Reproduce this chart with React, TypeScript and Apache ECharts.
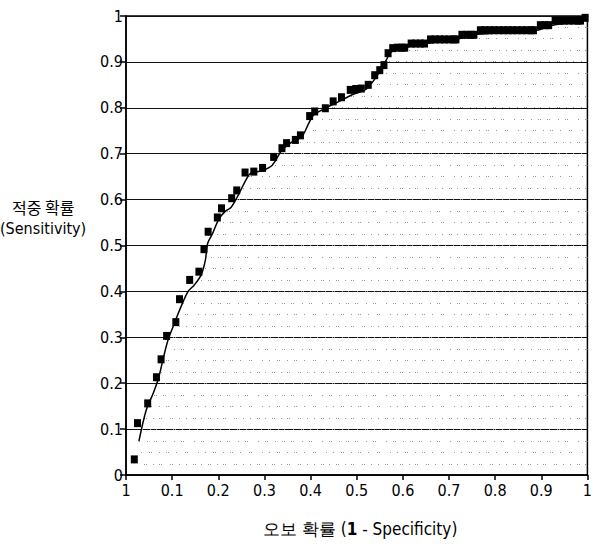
import React, { useEffect, useRef } from "react";
import * as echarts from "echarts";

// Empirical ROC points (1 - specificity, sensitivity), drawn as squares
const empiricalX = [
  0.018, 0.025, 0.047, 0.066, 0.076, 0.088, 0.108, 0.116, 0.138, 0.158,
  0.169, 0.178, 0.198, 0.207, 0.229, 0.240, 0.258, 0.277, 0.296, 0.320,
  0.338, 0.348, 0.367, 0.378, 0.398, 0.409, 0.432, 0.449, 0.467, 0.486,
  0.498, 0.510, 0.525, 0.539, 0.550, 0.559, 0.568, 0.578, 0.588, 0.598,
  0.604, 0.618, 0.628, 0.638, 0.647, 0.660, 0.670, 0.680, 0.690, 0.700,
  0.710, 0.715, 0.728, 0.738, 0.748, 0.754, 0.768, 0.778, 0.788, 0.798,
  0.808, 0.818, 0.828, 0.838, 0.848, 0.858, 0.868, 0.878, 0.883, 0.898,
  0.908, 0.916, 0.930, 0.940, 0.950, 0.960, 0.970, 0.980, 0.985, 0.995,
];
const empiricalY = [
  0.034, 0.113, 0.156, 0.213, 0.252, 0.303, 0.333, 0.383, 0.425, 0.443,
  0.492, 0.530, 0.561, 0.581, 0.603, 0.620, 0.659, 0.661, 0.669, 0.693,
  0.712, 0.723, 0.730, 0.740, 0.782, 0.792, 0.799, 0.814, 0.823, 0.839,
  0.841, 0.842, 0.850, 0.871, 0.882, 0.893, 0.919, 0.930, 0.931, 0.931,
  0.931, 0.940, 0.940, 0.940, 0.940, 0.949, 0.949, 0.949, 0.949, 0.949,
  0.949, 0.949, 0.959, 0.959, 0.959, 0.959, 0.969, 0.969, 0.969, 0.969,
  0.969, 0.969, 0.969, 0.969, 0.969, 0.969, 0.969, 0.969, 0.969, 0.980,
  0.980, 0.980, 0.990, 0.990, 0.990, 0.990, 0.990, 0.990, 0.990, 0.996,
];

// Fitted (smoothed) ROC curve
const curveX = [
  0.028, 0.044, 0.059, 0.071, 0.080, 0.091, 0.102, 0.116, 0.134, 0.148,
  0.163, 0.172, 0.177, 0.188, 0.202, 0.217, 0.227, 0.238, 0.249, 0.260,
  0.270, 0.295, 0.317, 0.338, 0.360, 0.381, 0.396, 0.406, 0.432, 0.460,
  0.489, 0.518, 0.535, 0.550, 0.564, 0.575, 0.600, 0.650, 0.720, 0.760,
  0.890, 0.925, 0.990, 1.0,
];
const curveY = [
  0.074, 0.142, 0.178, 0.213, 0.251, 0.294, 0.323, 0.359, 0.399, 0.414,
  0.436, 0.468, 0.505, 0.527, 0.559, 0.576, 0.582, 0.600, 0.621, 0.643,
  0.657, 0.663, 0.675, 0.708, 0.726, 0.737, 0.766, 0.784, 0.799, 0.813,
  0.828, 0.839, 0.857, 0.879, 0.904, 0.922, 0.930, 0.940, 0.950, 0.960,
  0.969, 0.980, 0.990, 1.0,
];

const xTitle = "오보 확률 ({b|1} - Specificity)";
const yTitleLines = ["적중 확률", "(Sensitivity)"];

const FONT = "'DejaVu Sans Condensed', 'Liberation Sans Narrow', 'DejaVu Sans', sans-serif";
const KFONT = "'Noto Sans CJK KR', 'DejaVu Sans Condensed', sans-serif";

function makeStipple(): HTMLCanvasElement {
  const c = document.createElement("canvas");
  c.width = 64;
  c.height = 46;
  const ctx = c.getContext("2d")!;
  const rows: [number, number[]][] = [
    [4, [1, 3, 9, 16, 18, 25, 31, 33, 42, 44, 51, 58]],
    [15, [5, 12, 14, 22, 28, 37, 45, 47, 54, 61]],
    [27, [2, 9, 11, 19, 26, 28, 35, 37, 46, 53, 55]],
    [38, [6, 13, 21, 23, 31, 38, 40, 48, 57, 59]],
  ];
  ctx.fillStyle = "#999999";
  rows.forEach(([y, xs]) => xs.forEach((x) => ctx.fillRect(x, y, 1, 1)));
  return c;
}

export default function App() {
  const ref = useRef<HTMLDivElement>(null);
  useEffect(() => {
    if (!ref.current) return;
    const chart = echarts.init(ref.current, undefined, { renderer: "svg" });
    const stipple = makeStipple();
    const pattern = {
      image: stipple.toDataURL(),
      imageWidth: stipple.width,
      imageHeight: stipple.height,
      repeat: "repeat",
    };
    const empirical = empiricalX.map((x, i) => [x, empiricalY[i]]);
    const curve = curveX.map((x, i) => [x, curveY[i]]);
    chart.setOption({
      animation: false,
      backgroundColor: "#fff",
      grid: {
        left: 126,
        right: 4,
        top: 16,
        bottom: 75,
        show: true,
        borderColor: "#000",
        borderWidth: 1.5,
        backgroundColor: "transparent",
      },
      xAxis: {
        type: "value",
        min: 0,
        max: 1,
        interval: 0.1,
        axisLine: { show: true, lineStyle: { color: "#000", width: 1.5 } },
        axisTick: { show: true, length: 5, lineStyle: { color: "#000", width: 1.5 } },
        splitLine: { show: false },
        axisLabel: {
          margin: 7,
          color: "#000",
          fontFamily: FONT,
          fontSize: 16,
          formatter: (v: number) => (v === 0 ? "1" : String(+v.toFixed(1))),
        },
      },
      yAxis: {
        type: "value",
        min: 0,
        max: 1,
        interval: 0.1,
        axisLine: { show: true, lineStyle: { color: "#000", width: 1.5 } },
        axisTick: { show: true, length: 6, lineStyle: { color: "#000", width: 1.5 } },
        splitLine: { show: true, lineStyle: { color: "#111", width: 1 } },
        axisLabel: {
          margin: 3,
          color: "#000",
          fontFamily: FONT,
          fontSize: 16,
          formatter: (v: number) => String(+v.toFixed(1)),
        },
      },
      series: [
        {
          type: "line",
          data: curve,
          smooth: 0.3,
          showSymbol: false,
          z: 2,
          lineStyle: { color: "#000", width: 1.5 },
          areaStyle: { color: pattern, opacity: 1 },
        },
        {
          type: "scatter",
          data: empirical,
          symbol: "rect",
          symbolSize: [7, 8],
          z: 3,
          itemStyle: { color: "#000", opacity: 1 },
        },
      ],
      graphic: [
        {
          type: "text",
          left: 12,
          top: 199,
          style: {
            text: yTitleLines[0],
            fill: "#000",
            font: `16px ${KFONT}`,
          },
        },
        {
          type: "text",
          left: 0,
          top: 220,
          style: {
            text: yTitleLines[1],
            fill: "#000",
            font: `16px ${FONT}`,
          },
        },
        {
          type: "text",
          left: 263,
          top: 520,
          style: {
            text: xTitle,
            fill: "#000",
            font: `17px ${FONT}`,
            rich: {
              b: { fontWeight: "bold", fontSize: 17, fontFamily: FONT },
            },
          },
        },
      ],
    });
    return () => chart.dispose();
  }, []);
  return (
    <div
      ref={ref}
      style={{ position: "absolute", left: 0, top: 0, width: 595, height: 550 }}
    />
  );
}
